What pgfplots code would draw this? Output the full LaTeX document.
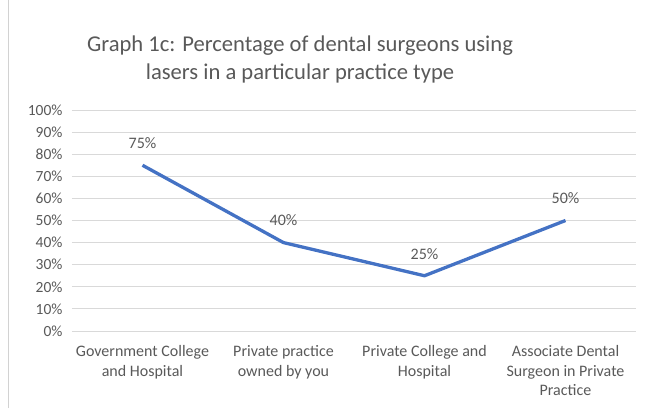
\documentclass[border=0pt]{standalone}
\usepackage{pgfplots}
\pgfplotsset{compat=1.18}
\usepackage{fontspec}
\setmainfont{Carlito}
\definecolor{txtgray}{HTML}{595959}
\definecolor{gridgray}{HTML}{D9D9D9}
\definecolor{lineblue}{HTML}{4472C4}
\begin{document}
\begin{tikzpicture}[x=1pt,y=1pt]
\useasboundingbox (0,0) rectangle (649,408);
\draw[gray!35, line width=1pt] (8,0) -- (8,408);
\node[txtgray, align=center, font=\fontsize{22.6}{28}\selectfont] at (300,349)
  {Graph 1c: Percentage of dental surgeons using\\lasers in a particular practice type};
\begin{axis}[
  at={(72pt,77pt)}, anchor=south west,
  scale only axis, width=564pt, height=221pt,
  xmin=-0.5, xmax=3.5, ymin=0, ymax=100,
  xtick={0,1,2,3},
  xticklabels={Government College\\and Hospital, Private practice\\owned by you, Private College and\\Hospital, Associate Dental\\Surgeon in Private\\Practice},
  xticklabel style={align=center, font=\fontsize{16}{19.5}\selectfont, color=txtgray, anchor=north, yshift=-11pt},
  ytick={0,10,...,100},
  yticklabel={\pgfmathprintnumber{\tick}\%},
  yticklabel style={font=\fontsize{15.5}{16}\selectfont, color=txtgray, xshift=-6pt},
  /pgf/number format/assume math mode=true,
  ymajorgrids, grid style={gridgray, line width=1pt},
  axis line style={draw=none},
  major tick length=0pt,
  nodes near coords={\pgfmathprintnumber{\pgfplotspointmeta}\%},
  every node near coord/.style={anchor=center, yshift=22pt, font=\fontsize{16}{17}\selectfont, color=txtgray},
  clip=false,
]
\addplot[lineblue, line width=3.3pt, line join=round, mark=none] coordinates {
  (0,75) (1,40) (2,25) (3,50)
};
\end{axis}
\end{tikzpicture}
\end{document}
